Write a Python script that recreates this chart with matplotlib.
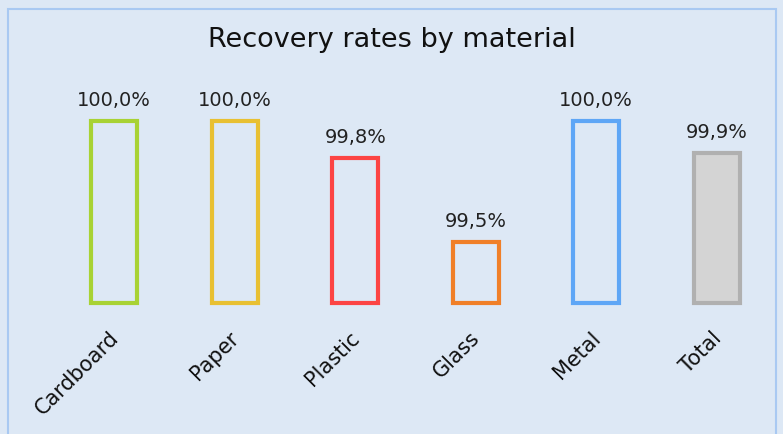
import matplotlib
matplotlib.use("Agg")
import matplotlib.pyplot as plt
from matplotlib.patches import Rectangle
import matplotlib.transforms as mtransforms

categories = ["Cardboard", "Paper", "Plastic", "Glass", "Metal", "Total"]
values = [100.0, 100.0, 99.849, 99.5, 100.0, 99.87]
edge_colors = ["#a8d234", "#e8c032", "#fc4444", "#f07f28", "#5ea6f6", "#b0b0b0"]
fill_colors = ["#dde8f5", "#dde8f5", "#dde8f5", "#dde8f5", "#dde8f5", "#d4d4d4"]

bg = "#dde8f5"
fig = plt.figure(figsize=(7.83, 4.34), dpi=100, facecolor=bg)
fig.patches.append(Rectangle((8/783, -0.05), (776-8)/783, 1.05 - 9/434,
                             transform=fig.transFigure, fill=False,
                             edgecolor="#a9c9f2", linewidth=1.5))

ax = fig.add_axes([54/783, 1 - 303/434, (777-54)/783, 243/434])
ax.set_facecolor("none")
base = 99.25
x = range(len(categories))
bars = ax.bar(x, [v - base for v in values], bottom=base, width=0.38,
              color=fill_colors, edgecolor=edge_colors, linewidth=3)
for b in bars:
    b.set_clip_on(False)
for i, v in enumerate(values):
    ax.annotate(f"{v:.1f}%".replace(".", ","), (i, v), xytext=(0, 8),
                textcoords="offset points", ha="center", va="bottom",
                fontsize=14, color="#222222")
ax.set_xlim(-0.5, len(categories) - 0.5)
ax.set_ylim(base, base + 1.004)
ax.set_xticks(list(x))
ax.set_xticklabels(categories, rotation=45, ha="right", va="top",
                   rotation_mode="anchor", fontsize=15, color="#111111")
ax.tick_params(axis="x", length=0, pad=18)
offset = mtransforms.ScaledTranslation(-6/100, 0, fig.dpi_scale_trans)
for lab in ax.get_xticklabels():
    lab.set_transform(lab.get_transform() + offset)
ax.set_yticks([])
for s in ax.spines.values():
    s.set_visible(False)

fig.text(0.5, 1 - 40/434, "Recovery rates by material", ha="center", va="center",
         fontsize=19.5, color="#111111")

fig.savefig("out.png", dpi=100, facecolor=bg)
